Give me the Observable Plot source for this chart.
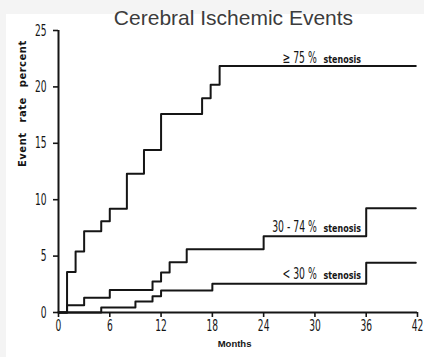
<!DOCTYPE html>
<html>
<head>
<meta charset="utf-8">
<script src="https://cdn.jsdelivr.net/npm/d3@7"></script>
<script src="https://cdn.jsdelivr.net/npm/@observablehq/plot@0.6"></script>
<style>
  html, body { margin: 0; padding: 0; }
  body { background: #f4f4f4; width: 424px; height: 357px; position: relative; overflow: hidden; }
  #title { position: absolute; left: 0; top: 7px; width: 467px; text-align: center;
    font-family: "Liberation Sans", Arial, sans-serif; font-size: 21px; line-height: 21px; color: #3c3c3c; z-index: 2; }
  #chart { position: absolute; left: 6px; top: 14px; width: 418px; height: 343px; background: #fff; }
  #chart svg { display: block; }
</style>
</head>
<body>
<div id="title">Cerebral Ischemic Events</div>
<div id="chart"></div>
<script>
// ≥75% stenosis
const highMonths = [0, 1, 2, 3, 5, 6, 8, 10, 12, 16.8, 17.8, 18.85, 41.8];
const highRates  = [0, 3.6, 5.4, 7.2, 8.1, 9.2, 12.3, 14.4, 17.6, 19.0, 20.2, 21.85, 21.85];
// 30-74% stenosis
const midMonths = [0, 1, 3, 6, 11, 12, 13, 15, 24, 36, 41.8];
const midRates  = [0, 0.65, 1.3, 2.0, 2.75, 3.55, 4.45, 5.6, 6.75, 9.25, 9.25];
// <30% stenosis
const lowMonths = [0, 5, 9, 11, 12, 18, 36, 41.8];
const lowRates  = [0, 0.45, 0.98, 1.45, 1.95, 2.55, 4.4, 4.4];

const xTicks = [0, 6, 12, 18, 24, 30, 36, 42];
const yTicks = [0, 5, 10, 15, 20, 25];

const labelDigits = ["≥ 75 %", "30 - 74 %", "< 30 %"];
const labelWord = "stenosis";
const labelMonth = [26.2, 25.0, 26.2];
const labelWordMonth = [31.0, 31.0, 31.0];
const labelRate = [22.1, 7.1, 3.0];

const xTitle = "Months";
const yTitle = "Event rate percent";

const toPts = (xs, ys) => xs.map((x, i) => ({month: x, rate: ys[i]}));
const high = toPts(highMonths, highRates);
const mid = toPts(midMonths, midRates);
const low = toPts(lowMonths, lowRates);
const labels = labelDigits.map((t, i) => ({t, x: labelMonth[i], xw: labelWordMonth[i], y: labelRate[i]}));

const ink = "#151515";
const lineOpts = {x: "month", y: "rate", curve: "step-after", stroke: ink, strokeWidth: 2};

const chart = Plot.plot({
  width: 418,
  height: 343,
  marginLeft: 52,
  marginRight: 7,
  marginTop: 16,
  marginBottom: 45,
  x: {domain: [0, 42]},
  y: {domain: [0, 25]},
  style: {background: "#fff", color: ink, fontFamily: "DejaVu Sans", overflow: "visible"},
  marks: [
    Plot.axisX({ticks: xTicks, tickSize: 5, tickPadding: 2, fontSize: 16, label: null, strokeWidth: 1.6}),
    Plot.axisY({ticks: yTicks, tickSize: 5, tickPadding: 7, fontSize: 16, label: null, strokeWidth: 1.6}),
    Plot.ruleX([0], {strokeWidth: 2, stroke: ink}),
    Plot.ruleY([0], {strokeWidth: 2, stroke: ink}),
    Plot.line(low, lineOpts),
    Plot.line(mid, lineOpts),
    Plot.line(high, lineOpts),
    Plot.text(labels, {x: "x", y: "y", text: "t", textAnchor: "start", lineAnchor: "bottom",
      fontSize: 15, fill: ink}),
    Plot.text(labels, {x: "xw", y: "y", text: () => labelWord, textAnchor: "start", lineAnchor: "bottom",
      fontSize: 10, fontWeight: "bold", fill: ink}),
    Plot.text([xTitle], {x: [20.6], frameAnchor: "bottom", dy: 34, text: d => d, fontSize: 9.5,
      fontWeight: "bold", fontFamily: "Liberation Sans", fill: ink}),
    Plot.text([yTitle], {y: [12.9], frameAnchor: "left", dx: -36, rotate: -90, text: d => d, fontSize: 10,
      fontWeight: "bold", fill: ink})
  ]
});

function squeezeEl(t, s) {
  const tr = t.getAttribute("transform") || "";
  t.setAttribute("transform", tr + ` scale(${s},1)`);
}
chart.querySelectorAll('g[aria-label="x-axis tick label"] text, g[aria-label="y-axis tick label"] text')
  .forEach(t => squeezeEl(t, 0.57));
chart.querySelectorAll("text").forEach(t => {
  const s = t.textContent;
  if (labelDigits.includes(s)) squeezeEl(t, 0.62);
  else if (s === labelWord) squeezeEl(t, 0.8);
  else if (s === yTitle) { t.style.letterSpacing = "0.5px"; t.style.wordSpacing = "6px"; }
});

document.getElementById("chart").appendChild(chart);
</script>
</body>
</html>
